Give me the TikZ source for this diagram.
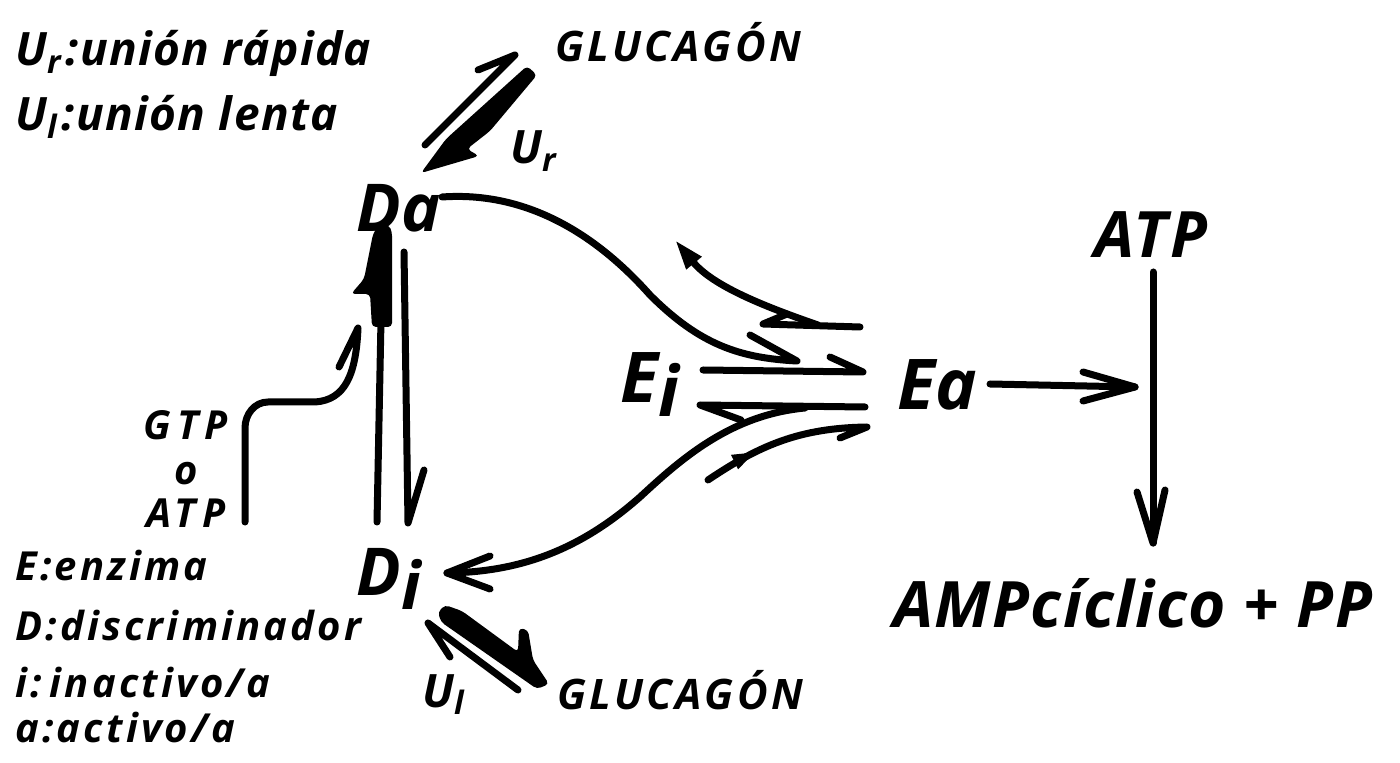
\documentclass[tikz,border=0pt]{standalone}
\usepackage{fontspec}
\newfontfamily\hand{Open Sans}
\usetikzlibrary{arrows.meta,decorations.markings}
\tikzset{
  ln/.style={line width=3.5pt, line cap=round, line join=round},
  txt/.style={inner sep=0pt, anchor=base west},
  ctxt/.style={inner sep=0pt, anchor=base},
  wedge/.style={fill=black, rounded corners=2pt},
}
\newcommand{\hf}[2]{\hand\bfseries\itshape\fontsize{#2}{#2}\selectfont\addfontfeature{LetterSpace=#1}}
\newcommand{\lo}[1]{\raisebox{-7pt}{#1}}
\newcommand{\sub}[1]{\textsubscript{#1}\kern2pt}
\begin{document}
\begin{tikzpicture}[x=0.5pt,y=-0.5pt]
\useasboundingbox (0,0) rectangle (1400,763);
% ---- texts
\node[txt, font=\hf{3}{23}] (ur) at (15,66) {U\sub{r}:unión rápida};
\node[txt, font=\hf{3}{23}] (ul) at (15,131) {U\sub{l}:unión lenta};
\node[txt, font=\hf{8}{21}] (glu1) at (555,62) {GLUCAGÓN};
\node[txt, font=\hf{0}{23}] (urlab) at (510,164) {U\textsubscript{r}};
\node[txt, font=\hf{0}{33}] (Da) at (356,232) {Da};
\node[txt, font=\hf{0}{33}] (Di) at (356,595) {D\lo{i}};
\node[txt, font=\hf{0}{35}] (Ei) at (620,403) {E\lo{i}};
\node[txt, font=\hf{0}{35}] (Ea) at (897,410) {Ea};
\node[ctxt, font=\hf{5}{32}] (atp) at (1151,258) {ATP};
\node[txt, font=\hf{2}{32}] (amp) at (893,627) {AMPcíclico + PP};
\node[ctxt, font=\hf{15}{20}] (gtp) at (186,440) {GTP};
\node[ctxt, font=\hf{15}{20}] (o) at (186,485) {o};
\node[ctxt, font=\hf{15}{20}] (atp2) at (186,527) {ATP};
\node[txt, font=\hf{0}{23}] (ullab) at (422,707) {U\textsubscript{l}};
\node[txt, font=\hf{8}{21}] (glu2) at (557,709) {GLUCAGÓN};
\node[txt, font=\hf{8}{20}] (le) at (15,580) {E:enzima};
\node[txt, font=\hf{8}{20}] (ld) at (15,640) {D:discriminador};
\node[txt, font=\hf{8}{20}] (li) at (15,697) {i:\kern4pt inactivo/a};
\node[txt, font=\hf{8}{20}] (la) at (15,742) {a:activo/a};
% ---- top glucagon pair
\coordinate (t1s) at (425,145); \coordinate (t1e) at (515,55);
\draw[ln] (t1s) -- (t1e) -- (478,70);
\fill[wedge] (527,66) -- (537,75) -- (490,131) -- (467,149) -- (479,156) -- (421,173) -- (446,139) -- cycle;
% ---- vertical Da <-> Di
\fill[wedge] (373,234) -- (378,226) -- (389,225) -- (392,232) -- (392,327) -- (372,327) -- (370,294) -- (351,294) -- (364,279) -- cycle;
\coordinate (vl1) at (381,320); \coordinate (vl2) at (377,522);
\draw[ln] (vl1) -- (vl2);
\coordinate (vr1) at (404,252); \coordinate (vr2) at (408,523);
\draw[ln] (vr1) -- (vr2) -- (424,470);
% ---- GTP curve
\coordinate (g1) at (245,522); \coordinate (g2) at (358,328);
\draw[ln] (g1) -- (245,428) to[out=90,in=180] (268,402) -- (315,402) .. controls (345,400) and (356,375) .. (g2) -- (339,367);
% ---- Da -> Ei/Ea curve
\coordinate (c1s) at (442,197); \coordinate (c1e) at (797,361);
\draw[ln] (c1s) .. controls (540,190) and (610,250) .. (650,295) .. controls (700,345) and (740,358) .. (c1e) -- (750,335);
% ---- upper return
\coordinate (r1) at (860,327); \coordinate (r2) at (763,324);
\draw[ln] (r1) -- (r2) -- (787,314);
\draw[ln, -{Triangle[length=15pt,width=9pt]}] (818,325) .. controls (760,305) and (712,285) .. (675,240);
% ---- Ei <-> Ea
\coordinate (e1) at (703,370); \coordinate (e2) at (863,372);
\draw[ln] (e1) -- (e2) -- (830,357);
\coordinate (e3) at (865,407); \coordinate (e4) at (700,405);
\draw[ln] (e3) -- (e4) -- (741,420);
% ---- lower curve to Di
\coordinate (l1) at (805,408); \coordinate (l2) at (447,573);
\draw[ln] (l1) .. controls (730,415) and (680,460) .. (640,497) .. controls (580,550) and (520,572) .. (l2);
\draw[ln] (490,556) -- (l2) -- (490,589);
% ---- small arrow
\coordinate (s1) at (708,480); \coordinate (s2) at (867,427);
\draw[ln, postaction={decorate}, decoration={markings, mark=at position 0.28 with {\arrow{Triangle[length=12pt,width=7pt]}}}] (s1) .. controls (760,445) and (800,428) .. (s2) -- (840,438);
% ---- Ea -> and ATP down
\coordinate (a1) at (990,384); \coordinate (a2) at (1135,387);
\draw[ln] (a1) -- (a2);
\draw[ln] (1083,372) -- (a2) -- (1083,401);
\coordinate (p1) at (1153,272); \coordinate (p2) at (1153,543);
\draw[ln] (p1) -- (p2);
\draw[ln] (1137,492) -- (p2) -- (1165,490);
% ---- bottom glucagon pair
\coordinate (b1) at (518,690); \coordinate (b2) at (428,623);
\draw[ln] (b1) -- (b2) -- (450,657);
\fill[wedge] (445,605) -- (462,611) -- (518,652) -- (519,628) -- (528,630) -- (533,660) -- (549,684) -- (537,689) -- (441,622) -- (438,612) -- cycle;
\end{tikzpicture}
\end{document}
